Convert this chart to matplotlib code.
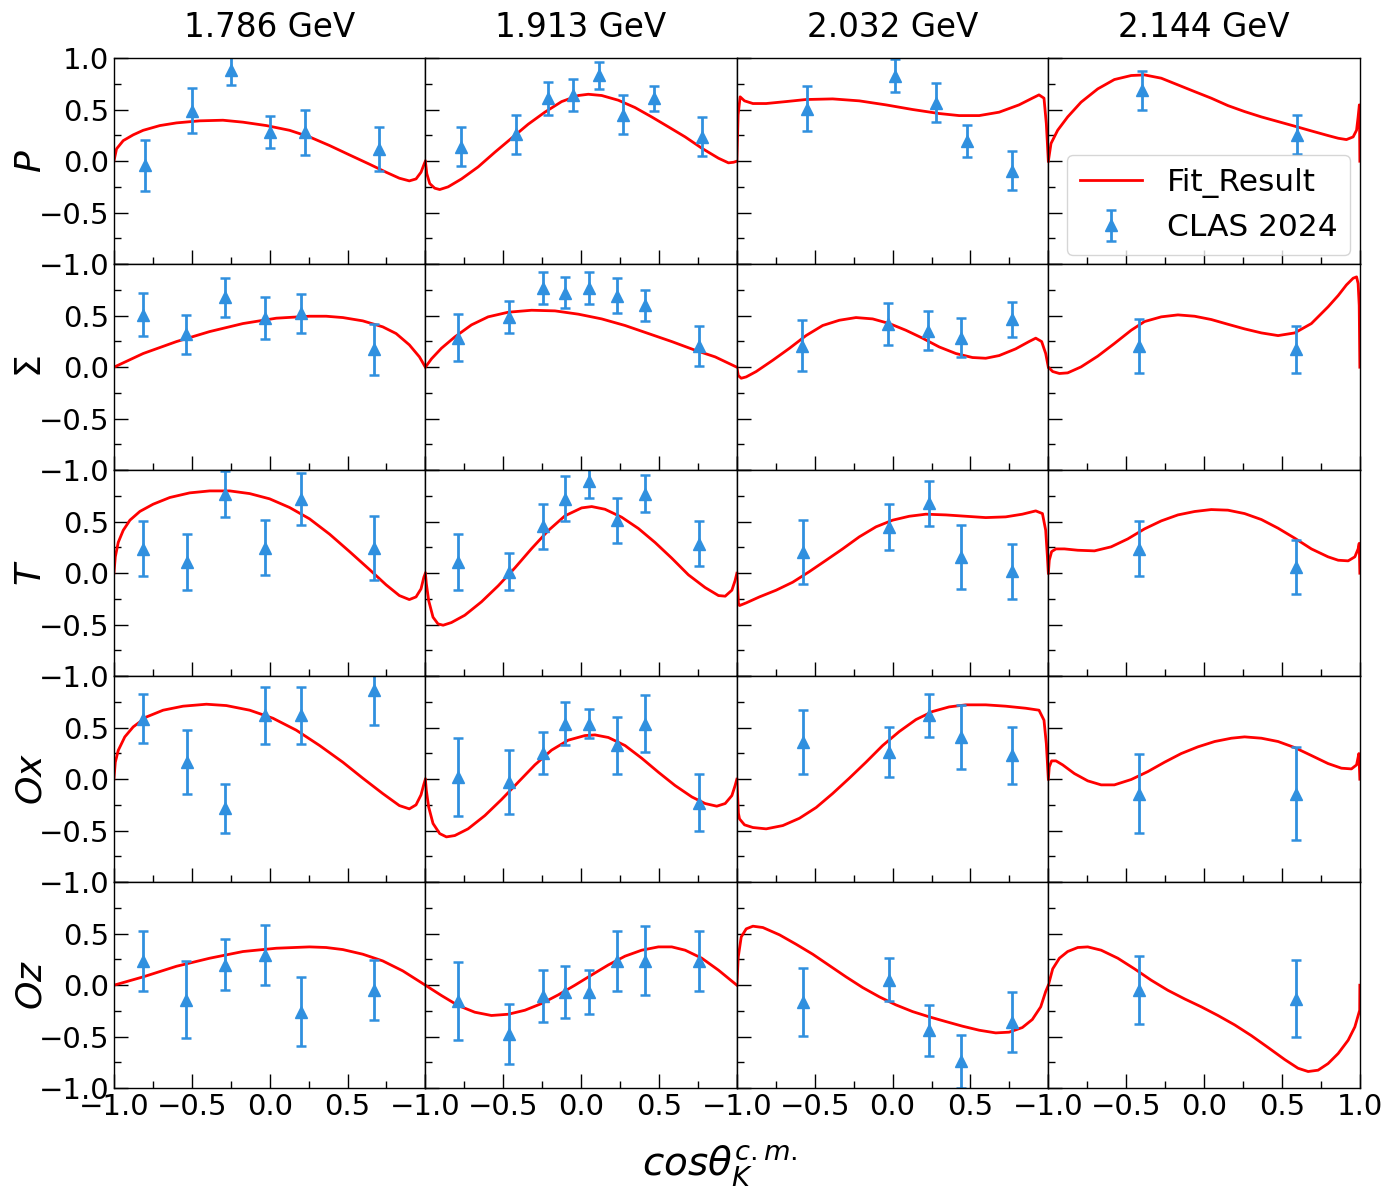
import matplotlib
matplotlib.use("Agg")
import matplotlib.pyplot as plt
from matplotlib.ticker import AutoMinorLocator

energies = ["1.786 GeV", "1.913 GeV", "2.032 GeV", "2.144 GeV"]
obs_labels = ["$P$", "$\\Sigma$", "$T$", "$Ox$", "$Oz$"]

# ---- P ----
P_cos = [[-0.80, -0.50, -0.25, 0.00, 0.23, 0.70],
         [-0.77, -0.42, -0.214, -0.053, 0.114, 0.266, 0.469, 0.775],
         [-0.55, 0.016, 0.278, 0.476, 0.765],
         [-0.398, 0.598]]
P_val = [[-0.04, 0.49, 0.89, 0.28, 0.28, 0.12],
         [0.14, 0.26, 0.61, 0.64, 0.835, 0.45, 0.61, 0.236],
         [0.51, 0.83, 0.57, 0.197, -0.094],
         [0.69, 0.256]]
P_err = [[0.25, 0.22, 0.15, 0.155, 0.22, 0.215],
         [0.19, 0.19, 0.16, 0.155, 0.13, 0.19, 0.125, 0.19],
         [0.22, 0.16, 0.19, 0.155, 0.19],
         [0.19, 0.19]]
P_fit_cos = [[-1.0, -0.983, -0.94, -0.876, -0.812, -0.705, -0.598, -0.449, -0.3, -0.171, -0.021, 0.128, 0.256, 0.385, 0.513, 0.641, 0.748, 0.833, 0.897, 0.94, 0.972, 0.994, 1.0],
             [-1.0, -0.991, -0.972, -0.94, -0.908, -0.854, -0.768, -0.661, -0.554, -0.447, -0.34, -0.233, -0.125, -0.018, 0.046, 0.132, 0.239, 0.346, 0.453, 0.561, 0.668, 0.775, 0.882, 0.946, 0.979, 1.0],
             [-1.0, -0.992, -0.979, -0.951, -0.897, -0.812, -0.684, -0.556, -0.385, -0.214, -0.043, 0.128, 0.299, 0.427, 0.556, 0.684, 0.812, 0.897, 0.94, 0.972, 0.987, 1.0],
             [-1.0, -0.983, -0.94, -0.876, -0.79, -0.683, -0.576, -0.468, -0.383, -0.275, -0.168, -0.061, 0.046, 0.153, 0.26, 0.368, 0.475, 0.582, 0.689, 0.796, 0.861, 0.914, 0.957, 0.979, 0.989, 0.997, 1.0]]
P_fit_val = [[0.0, 0.12, 0.2, 0.256, 0.3, 0.346, 0.372, 0.392, 0.398, 0.379, 0.346, 0.3, 0.236, 0.152, 0.061, -0.029, -0.107, -0.165, -0.191, -0.172, -0.107, -0.02, 0.0],
             [0.0, -0.12, -0.217, -0.262, -0.275, -0.249, -0.172, -0.055, 0.087, 0.223, 0.359, 0.476, 0.579, 0.638, 0.65, 0.638, 0.592, 0.521, 0.43, 0.333, 0.236, 0.126, 0.029, -0.016, -0.01, 0.0],
             [0.0, 0.45, 0.625, 0.586, 0.56, 0.56, 0.579, 0.599, 0.605, 0.586, 0.547, 0.502, 0.463, 0.443, 0.443, 0.476, 0.547, 0.612, 0.644, 0.612, 0.365, 0.0],
             [0.0, 0.172, 0.301, 0.43, 0.573, 0.702, 0.793, 0.832, 0.838, 0.806, 0.741, 0.676, 0.612, 0.54, 0.482, 0.43, 0.385, 0.34, 0.294, 0.249, 0.223, 0.21, 0.236, 0.301, 0.43, 0.547, 0.0]]

# ---- Sigma ----
S_cos = [[-0.81, -0.534, -0.286, -0.032, 0.204, 0.667],
         [-0.79, -0.46, -0.247, -0.105, 0.053, 0.229, 0.411, 0.757],
         [-0.58, -0.027, 0.23, 0.44, 0.768],
         [-0.417, 0.592]]
S_val = [[0.51, 0.32, 0.68, 0.477, 0.523, 0.173],
         [0.288, 0.49, 0.771, 0.722, 0.771, 0.696, 0.6, 0.206],
         [0.21, 0.418, 0.353, 0.288, 0.467],
         [0.206, 0.173]]
S_err = [[0.21, 0.19, 0.19, 0.205, 0.19, 0.245],
         [0.225, 0.155, 0.155, 0.15, 0.155, 0.17, 0.15, 0.19],
         [0.245, 0.205, 0.19, 0.19, 0.17],
         [0.265, 0.23]]
S_fit_cos = [[-1.0, -0.812, -0.598, -0.385, -0.171, 0.043, 0.256, 0.363, 0.47, 0.598, 0.726, 0.812, 0.897, 0.962, 1.0],
             [-1.0, -0.961, -0.897, -0.811, -0.704, -0.597, -0.468, -0.318, -0.168, -0.018, 0.132, 0.282, 0.432, 0.582, 0.732, 0.861, 1.0],
             [-1.0, -0.991, -0.972, -0.94, -0.876, -0.769, -0.662, -0.556, -0.449, -0.342, -0.235, -0.128, -0.021, 0.085, 0.192, 0.299, 0.406, 0.513, 0.598, 0.684, 0.79, 0.876, 0.919, 0.957, 0.983, 1.0],
             [-1.0, -0.972, -0.929, -0.876, -0.79, -0.683, -0.576, -0.468, -0.383, -0.275, -0.168, -0.061, 0.046, 0.153, 0.26, 0.368, 0.475, 0.582, 0.689, 0.796, 0.861, 0.914, 0.957, 0.979, 0.989, 0.996, 1.0]]
S_fit_val = [[0.0, 0.133, 0.249, 0.346, 0.424, 0.476, 0.495, 0.495, 0.482, 0.45, 0.392, 0.327, 0.217, 0.1, 0.0],
             [0.0, 0.081, 0.184, 0.294, 0.411, 0.489, 0.534, 0.553, 0.547, 0.515, 0.469, 0.405, 0.327, 0.249, 0.165, 0.1, 0.0],
             [0.0, -0.081, -0.107, -0.094, -0.042, 0.068, 0.184, 0.307, 0.405, 0.456, 0.482, 0.469, 0.424, 0.359, 0.282, 0.197, 0.133, 0.094, 0.087, 0.113, 0.178, 0.249, 0.282, 0.249, 0.133, 0.0],
             [0.0, -0.042, -0.061, -0.055, 0.003, 0.107, 0.23, 0.359, 0.443, 0.489, 0.508, 0.495, 0.463, 0.417, 0.372, 0.333, 0.307, 0.333, 0.424, 0.586, 0.696, 0.799, 0.864, 0.877, 0.812, 0.6, 0.0]]

# ---- T ----
T_cos = [[-0.81, -0.531, -0.286, -0.032, 0.204, 0.667],
         [-0.79, -0.46, -0.247, -0.105, 0.053, 0.229, 0.411, 0.757],
         [-0.578, -0.024, 0.232, 0.44, 0.768],
         [-0.417, 0.592]]
T_val = [[0.239, 0.11, 0.77, 0.248, 0.72, 0.248],
         [0.11, 0.013, 0.455, 0.723, 0.9, 0.513, 0.77, 0.287],
         [0.206, 0.448, 0.68, 0.158, 0.019],
         [0.239, 0.061]]
T_err = [[0.27, 0.27, 0.22, 0.27, 0.25, 0.31],
         [0.27, 0.18, 0.22, 0.22, 0.17, 0.22, 0.18, 0.22],
         [0.31, 0.22, 0.22, 0.31, 0.265],
         [0.265, 0.265]]
T_fit_cos = [[-1.0, -0.991, -0.972, -0.94, -0.897, -0.833, -0.748, -0.641, -0.513, -0.385, -0.256, -0.128, 0.0, 0.128, 0.256, 0.385, 0.513, 0.641, 0.748, 0.833, 0.897, 0.94, 0.972, 0.99, 1.0],
             [-1.0, -0.994, -0.979, -0.951, -0.919, -0.886, -0.833, -0.747, -0.64, -0.533, -0.425, -0.318, -0.211, -0.104, 0.003, 0.068, 0.153, 0.26, 0.368, 0.475, 0.582, 0.689, 0.796, 0.882, 0.925, 0.968, 0.989, 1.0],
             [-1.0, -0.99, -0.983, -0.94, -0.855, -0.748, -0.641, -0.534, -0.427, -0.321, -0.214, -0.107, 0.0, 0.107, 0.214, 0.342, 0.47, 0.598, 0.726, 0.833, 0.919, 0.962, 0.983, 0.994, 1.0],
             [-1.0, -0.994, -0.979, -0.951, -0.897, -0.811, -0.704, -0.597, -0.49, -0.383, -0.275, -0.168, -0.061, 0.046, 0.153, 0.26, 0.368, 0.475, 0.582, 0.689, 0.796, 0.861, 0.925, 0.968, 0.989, 0.996, 1.0]]
T_fit_val = [[0.0, 0.159, 0.3, 0.417, 0.515, 0.6, 0.67, 0.735, 0.78, 0.799, 0.799, 0.773, 0.722, 0.638, 0.528, 0.379, 0.21, 0.036, -0.113, -0.217, -0.256, -0.23, -0.152, -0.04, 0.0],
             [0.0, -0.1, -0.265, -0.427, -0.492, -0.505, -0.479, -0.408, -0.278, -0.123, 0.052, 0.239, 0.414, 0.557, 0.634, 0.647, 0.621, 0.544, 0.434, 0.298, 0.146, -0.016, -0.139, -0.217, -0.223, -0.165, -0.07, 0.0],
             [0.0, -0.29, -0.314, -0.288, -0.23, -0.165, -0.087, 0.016, 0.126, 0.236, 0.353, 0.45, 0.515, 0.553, 0.573, 0.566, 0.553, 0.54, 0.547, 0.573, 0.605, 0.579, 0.417, 0.159, 0.0],
             [0.0, 0.126, 0.21, 0.236, 0.236, 0.223, 0.217, 0.256, 0.333, 0.43, 0.508, 0.566, 0.599, 0.618, 0.612, 0.579, 0.521, 0.437, 0.34, 0.236, 0.159, 0.126, 0.12, 0.159, 0.236, 0.29, 0.0]]

# ---- Ox ----
Ox_cos = [[-0.81, -0.531, -0.286, -0.032, 0.204, 0.667],
          [-0.79, -0.46, -0.247, -0.105, 0.053, 0.229, 0.411, 0.757],
          [-0.578, -0.024, 0.232, 0.44, 0.768],
          [-0.417, 0.592]]
Ox_val = [[0.587, 0.168, -0.284, 0.619, 0.62, 0.868],
          [0.023, -0.026, 0.258, 0.539, 0.539, 0.329, 0.539, -0.229],
          [0.361, 0.265, 0.619, 0.41, 0.232],
          [-0.139, -0.139]]
Ox_err = [[0.24, 0.31, 0.24, 0.28, 0.28, 0.34],
          [0.38, 0.31, 0.205, 0.21, 0.14, 0.275, 0.275, 0.275],
          [0.31, 0.24, 0.205, 0.31, 0.275],
          [0.38, 0.45]]
Ox_fit_cos = [[-1.0, -0.991, -0.972, -0.93, -0.876, -0.79, -0.684, -0.556, -0.406, -0.278, -0.128, 0.021, 0.171, 0.321, 0.47, 0.598, 0.726, 0.833, 0.897, 0.94, 0.972, 0.99, 1.0],
              [-1.0, -0.994, -0.979, -0.951, -0.908, -0.865, -0.811, -0.726, -0.618, -0.511, -0.404, -0.297, -0.19, -0.083, 0.025, 0.089, 0.175, 0.282, 0.389, 0.496, 0.603, 0.711, 0.796, 0.871, 0.925, 0.968, 0.989, 1.0],
              [-1.0, -0.99, -0.983, -0.951, -0.897, -0.812, -0.705, -0.598, -0.491, -0.385, -0.278, -0.171, -0.064, 0.043, 0.15, 0.256, 0.363, 0.47, 0.598, 0.726, 0.855, 0.94, 0.972, 0.987, 1.0],
              [-1.0, -0.994, -0.979, -0.951, -0.908, -0.833, -0.747, -0.661, -0.576, -0.468, -0.361, -0.254, -0.147, -0.04, 0.068, 0.175, 0.26, 0.368, 0.475, 0.582, 0.689, 0.796, 0.882, 0.946, 0.979, 0.994, 1.0]]
Ox_fit_val = [[0.0, 0.165, 0.28, 0.411, 0.508, 0.605, 0.67, 0.709, 0.728, 0.715, 0.67, 0.592, 0.476, 0.327, 0.165, 0.01, -0.139, -0.256, -0.288, -0.249, -0.152, -0.05, 0.0],
              [0.0, -0.107, -0.269, -0.43, -0.528, -0.56, -0.547, -0.482, -0.353, -0.197, -0.029, 0.139, 0.282, 0.379, 0.424, 0.43, 0.405, 0.327, 0.204, 0.068, -0.061, -0.172, -0.236, -0.262, -0.236, -0.159, -0.06, 0.0],
              [0.0, -0.33, -0.385, -0.443, -0.469, -0.482, -0.45, -0.379, -0.275, -0.139, 0.01, 0.165, 0.327, 0.463, 0.579, 0.657, 0.702, 0.722, 0.722, 0.709, 0.689, 0.67, 0.573, 0.346, 0.0],
              [0.0, 0.12, 0.178, 0.178, 0.139, 0.055, -0.016, -0.055, -0.055, -0.003, 0.074, 0.165, 0.249, 0.314, 0.366, 0.398, 0.411, 0.398, 0.366, 0.307, 0.23, 0.152, 0.107, 0.1, 0.139, 0.249, 0.0]]

# ---- Oz ----
Oz_cos = [[-0.81, -0.534, -0.286, -0.032, 0.204, 0.667],
          [-0.79, -0.46, -0.247, -0.105, 0.053, 0.229, 0.411, 0.757],
          [-0.578, -0.024, 0.232, 0.44, 0.768],
          [-0.417, 0.592]]
Oz_val = [[0.237, -0.14, 0.2, 0.292, -0.26, -0.049],
          [-0.153, -0.477, -0.107, -0.065, -0.065, 0.237, 0.237, 0.237],
          [-0.162, 0.055, -0.438, -0.74, -0.357],
          [-0.049, -0.13]]
Oz_err = [[0.29, 0.375, 0.25, 0.29, 0.335, 0.29],
          [0.375, 0.29, 0.25, 0.25, 0.21, 0.29, 0.335, 0.29],
          [0.33, 0.21, 0.25, 0.26, 0.29],
          [0.33, 0.375]]
Oz_fit_cos = [[-1.0, -0.812, -0.598, -0.385, -0.171, 0.043, 0.256, 0.363, 0.47, 0.598, 0.726, 0.855, 1.0],
              [-1.0, -0.897, -0.79, -0.683, -0.576, -0.468, -0.361, -0.254, -0.147, -0.04, 0.068, 0.175, 0.282, 0.389, 0.496, 0.582, 0.668, 0.775, 0.882, 1.0],
              [-1.0, -0.991, -0.972, -0.94, -0.897, -0.833, -0.726, -0.62, -0.513, -0.406, -0.299, -0.192, -0.085, 0.021, 0.128, 0.235, 0.342, 0.449, 0.556, 0.662, 0.748, 0.833, 0.897, 0.951, 0.983, 1.0],
              [-1.0, -0.972, -0.929, -0.876, -0.811, -0.747, -0.661, -0.554, -0.447, -0.34, -0.233, -0.125, -0.018, 0.089, 0.196, 0.303, 0.411, 0.518, 0.603, 0.668, 0.732, 0.796, 0.861, 0.925, 0.968, 0.999, 1.0]]
Oz_fit_val = [[0.0, 0.081, 0.184, 0.262, 0.327, 0.359, 0.372, 0.366, 0.346, 0.301, 0.236, 0.139, 0.0],
              [0.0, -0.1, -0.197, -0.262, -0.294, -0.282, -0.243, -0.178, -0.094, 0.0, 0.1, 0.197, 0.282, 0.34, 0.372, 0.372, 0.34, 0.262, 0.146, 0.0],
              [0.0, 0.275, 0.469, 0.547, 0.573, 0.56, 0.489, 0.398, 0.301, 0.191, 0.081, -0.023, -0.113, -0.191, -0.256, -0.307, -0.353, -0.398, -0.437, -0.463, -0.456, -0.411, -0.333, -0.21, -0.061, 0.0],
              [0.0, 0.159, 0.262, 0.327, 0.366, 0.372, 0.34, 0.262, 0.159, 0.049, -0.049, -0.133, -0.21, -0.294, -0.385, -0.489, -0.605, -0.722, -0.806, -0.838, -0.825, -0.761, -0.663, -0.534, -0.405, -0.243, 0.0]]

rows = [
    (P_cos, P_val, P_err, P_fit_cos, P_fit_val),
    (S_cos, S_val, S_err, S_fit_cos, S_fit_val),
    (T_cos, T_val, T_err, T_fit_cos, T_fit_val),
    (Ox_cos, Ox_val, Ox_err, Ox_fit_cos, Ox_fit_val),
    (Oz_cos, Oz_val, Oz_err, Oz_fit_cos, Oz_fit_val),
]

FIT_COLOR = "#ff0000"
DATA_COLOR = "#3090df"
TICK_FS = 21

fig, axes = plt.subplots(5, 4, figsize=(13.89, 11.88), dpi=100)
plt.subplots_adjust(left=0.082, right=0.979, top=0.951, bottom=0.084, hspace=0, wspace=0)

ticks = [-1.0, -0.5, 0.0, 0.5, 1.0]
full_labels = ["\u22121.0", "\u22120.5", "0.0", "0.5", "1.0"]
cut_labels = ["\u22121.0", "\u22120.5", "0.0", "0.5", ""]

for r, (cos, val, err, fcos, fval) in enumerate(rows):
    for c in range(4):
        ax = axes[r, c]
        line, = ax.plot(fcos[c], fval[c], color=FIT_COLOR, lw=2.0, label="Fit_Result",
                        solid_joinstyle="round")
        eb = ax.errorbar(cos[c], val[c], yerr=err[c], fmt="^", color=DATA_COLOR,
                         ms=9, elinewidth=2, capsize=3.5, capthick=1.8, label="CLAS 2024")
        ax.set_xlim(-1, 1)
        ax.set_ylim(-1, 1)
        ax.set_xticks(ticks)
        ax.set_yticks(ticks)
        ax.xaxis.set_minor_locator(AutoMinorLocator(2))
        ax.yaxis.set_minor_locator(AutoMinorLocator(2))
        ax.tick_params(which="both", direction="in", top=False, right=False, labelsize=TICK_FS)
        ax.tick_params(which="major", length=10, width=1.0)
        ax.tick_params(which="minor", length=5, width=1.0)
        for s in ax.spines.values():
            s.set_linewidth(1.0)

        if r == 4:
            ax.set_xticklabels(full_labels if c == 3 else cut_labels)
        else:
            ax.set_xticklabels([])
        if c == 0:
            ax.set_yticklabels(full_labels if r == 0 else cut_labels)
            ax.set_ylabel(obs_labels[r], fontsize=26, labelpad=-7)
        else:
            ax.set_yticklabels([])
        if r == 0:
            ax.set_title(energies[c], fontsize=23.5, pad=15)
        if r == 0 and c == 3:
            ax.legend(handles=[line, eb], loc="lower right", fontsize=22.5,
                      borderaxespad=0.3)

fig.text(0.518, 0.018, "$cos\\theta_K^{c.m.}$", ha="center", va="center", fontsize=28)

plt.savefig("out.png", dpi=100)
